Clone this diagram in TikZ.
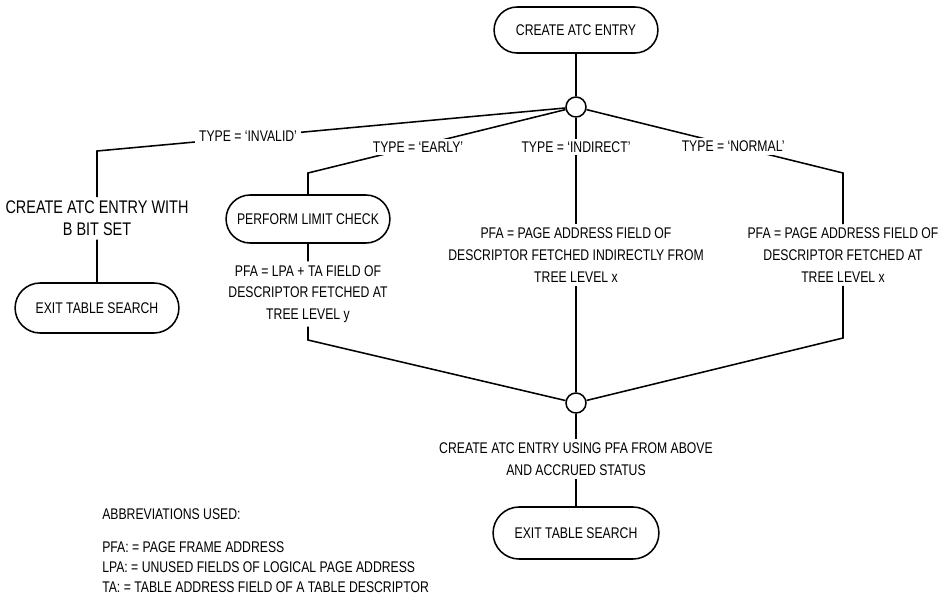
\documentclass[tikz,border=0pt]{standalone}
\usepackage{fontspec}
\setmainfont[FakeStretch=0.79]{Liberation Sans}
\usetikzlibrary{shapes.misc, backgrounds}

\begin{document}
\begin{tikzpicture}[
    pill/.style={
        draw,
        line width=1.1pt,
        rounded rectangle,
        minimum width=4.33cm,
        minimum height=1.2cm,
        align=center
    },
    junction/.style={
        draw,
        line width=1.1pt,
        circle,
        fill=white,
        minimum size=0.5cm,
        inner sep=0pt
    },
    caption/.style={
        align=center,
        inner sep=2.5pt
    },
    branch/.style={
        fill=white,
        inner xsep=3pt,
        inner ysep=2pt
    },
    link/.style={
        line width=1.1pt
    },
    font=\fontsize{11}{15.5}\selectfont
]

\useasboundingbox (0,0) rectangle (23.725,-15.025);

% ---------------- Top ----------------

\node[pill, minimum height=1.15cm] (start) at (14.4,-0.75) {CREATE ATC ENTRY};

\node[junction] (jtop) at (14.4,-2.675) {};

\coordinate (cinvalid) at (2.425,-3.775);
\coordinate (cearly) at (7.7,-4.325);
\coordinate (cnormal) at (21.075,-4.325);

\node[branch] (tinvalid) at (6.2,-3.4) {TYPE = `INVALID'};
\node[branch] (tearly) at (10.45,-3.68) {TYPE = `EARLY'};
\node[branch] (tindirect) at (14.4,-3.68) {TYPE = `INDIRECT'};
\node[branch] (tnormal) at (18.33,-3.66) {TYPE = `NORMAL'};

% ---------------- Invalid ----------------

\node[caption, font=\fontsize{13}{15.5}\selectfont] (bitset) at (2.425,-5.46)
{
    CREATE ATC ENTRY WITH\\
    B BIT SET
};

\node[pill, minimum height=1.25cm] (exitleft) at (2.425,-7.7) {EXIT TABLE SEARCH};

% ---------------- Early ----------------

\node[pill] (limit) at (7.7,-5.475) {PERFORM LIMIT CHECK};

\node[caption] (early) at (7.7,-7.35)
{
    PFA = LPA + TA FIELD OF\\
    DESCRIPTOR FETCHED AT\\
    TREE LEVEL y
};

\coordinate (cearlyb) at (7.7,-8.5);

% ---------------- Indirect ----------------

\node[caption] (indirect) at (14.4,-6.375)
{
    PFA = PAGE ADDRESS FIELD OF\\
    DESCRIPTOR FETCHED INDIRECTLY FROM\\
    TREE LEVEL x
};

% ---------------- Normal ----------------

\node[caption] (normal) at (21.075,-6.375)
{
    PFA = PAGE ADDRESS FIELD OF\\
    DESCRIPTOR FETCHED AT\\
    TREE LEVEL x
};

\coordinate (cnormalb) at (21.075,-8.45);

% ---------------- Bottom ----------------

\node[junction] (jbot) at (14.4,-10.075) {};

\node[caption] (using) at (14.4,-11.475)
{
    CREATE ATC ENTRY USING PFA FROM ABOVE\\
    AND ACCRUED STATUS
};

\node[pill, minimum width=4.38cm, minimum height=1.3cm] (exitbottom) at (14.4,-13.325) {EXIT TABLE SEARCH};

\node[align=left, anchor=north west, inner sep=0pt] (abbrev) at (2.55,-12.7)
{
    ABBREVIATIONS USED:\\[0.3cm]
    PFA: = PAGE FRAME ADDRESS\\[-0.05cm]
    LPA: = UNUSED FIELDS OF LOGICAL PAGE ADDRESS\\[-0.05cm]
    TA: = TABLE ADDRESS FIELD OF A TABLE DESCRIPTOR
};

% ---------------- Lines ----------------

\begin{scope}[on background layer]
    \fill[white] (0,0) rectangle (23.725,-15.025);
    \draw[link] (start) -- (jtop);
    \draw[link] (jtop) -- (cinvalid) -- (bitset);
    \draw[link] (bitset) -- (exitleft);
    \draw[link] (jtop) -- (cearly) -- (limit);
    \draw[link] (limit) -- (early);
    \draw[link] (early) -- (cearlyb) -- (jbot);
    \draw[link] (jtop) -- (indirect);
    \draw[link] (indirect) -- (jbot);
    \draw[link] (jtop) -- (cnormal) -- (normal);
    \draw[link] (normal) -- (cnormalb) -- (jbot);
    \draw[link] (jbot) -- (using);
    \draw[link] (using) -- (exitbottom);
\end{scope}

\end{tikzpicture}
\end{document}
